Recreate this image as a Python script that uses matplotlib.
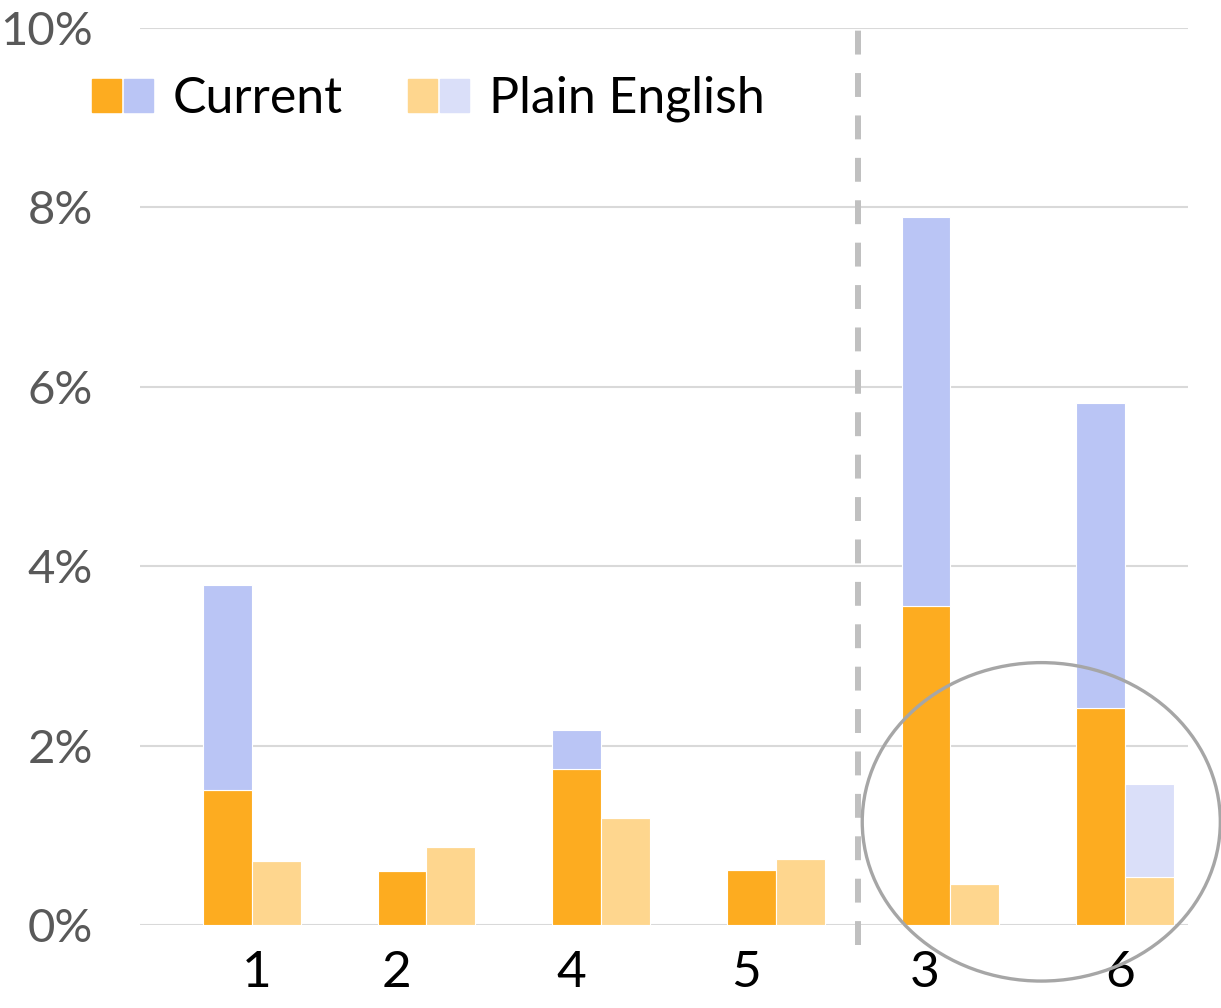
import matplotlib
matplotlib.use("Agg")
import matplotlib.pyplot as plt
import numpy as np
from matplotlib.patches import Ellipse, Rectangle
from matplotlib.legend_handler import HandlerTuple

# reading-level groups, in the order shown
groups = ['1', '2', '4', '5', '3', '6']
current_low = [1.51, 0.60, 1.74, 0.61, 3.56, 2.42]
current_total = [3.79, 0.60, 2.17, 0.61, 7.89, 5.82]
plain_low = [0.71, 0.87, 1.19, 0.74, 0.46, 0.54]
plain_total = [0.71, 0.87, 1.19, 0.74, 0.46, 1.57]
yticks = [0, 2, 4, 6, 8, 10]

ORANGE = '#FDAC20'
BLUE = '#BAC5F5'
LORANGE = '#FED68E'
LBLUE = '#DADFF9'

plt.rcParams['font.family'] = ['Lato', 'DejaVu Sans']

fig = plt.figure(figsize=(12.21, 10.08), dpi=100)
ax = fig.add_axes([140/1221, 1-925/1008, 1048/1221, 897/1008])

x = np.arange(len(groups))
w = 0.28
cur_high = np.array(current_total) - np.array(current_low)
pl_high = np.array(plain_total) - np.array(plain_low)

ax.bar(x - w/2, current_low, w, color=ORANGE, edgecolor='white', linewidth=0.8, zorder=3)
ax.bar(x - w/2, cur_high, w, bottom=current_low, color=BLUE, edgecolor='white', linewidth=0.8, zorder=3)
ax.bar(x + w/2, plain_low, w, color=LORANGE, edgecolor='white', linewidth=0.8, zorder=3)
ax.bar(x + w/2, pl_high, w, bottom=plain_low, color=LBLUE, edgecolor='white', linewidth=0.8, zorder=3)

ax.set_xlim(-0.64, 5.36)
ax.set_ylim(0, 10)
ax.set_yticks(yticks)
ax.set_yticklabels(['%d%%' % v for v in yticks], color='#595959', fontsize=34)
ax.yaxis.grid(True, color='#D9D9D9', linewidth=1.5, zorder=0)
ax.tick_params(axis='both', length=0)
ax.tick_params(axis='y', pad=34)

label_shift = [0.03, -0.17, -0.17, -0.17, -0.15, -0.03]
ax.set_xticks(x + np.array(label_shift))
ax.set_xticklabels(groups, fontsize=37, color='black')
ax.tick_params(axis='x', pad=18)

for s in ax.spines.values():
    s.set_visible(False)

# separator between groups
ax.plot([3.47, 3.47], [-0.22, 9.98], ls=(0, (4, 3.1)), color='#C0C0C0', lw=4.3,
        clip_on=False, zorder=2)

# highlight ellipse
ax.add_patch(Ellipse((4.52, 1.15), 2.05, 3.55, fill=False, edgecolor='#A6A6A6',
                     linewidth=2.4, clip_on=False, zorder=4))

h_cur = (Rectangle((0, 0), 1, 1, color=ORANGE), Rectangle((0, 0), 1, 1, color=BLUE))
h_pl = (Rectangle((0, 0), 1, 1, color=LORANGE), Rectangle((0, 0), 1, 1, color=LBLUE))
fig.legend([h_cur, h_pl], ['Current', 'Plain English'],
           handler_map={tuple: HandlerTuple(ndivide=None, pad=0.05)},
           loc='center left', bbox_to_anchor=(92/1221, 1-99/1008), ncol=2,
           frameon=False, fontsize=36, borderpad=0, borderaxespad=0,
           handlelength=1.22, handleheight=0.64, handletextpad=0.4,
           columnspacing=1.3)

fig.savefig('out.png', dpi=100)
